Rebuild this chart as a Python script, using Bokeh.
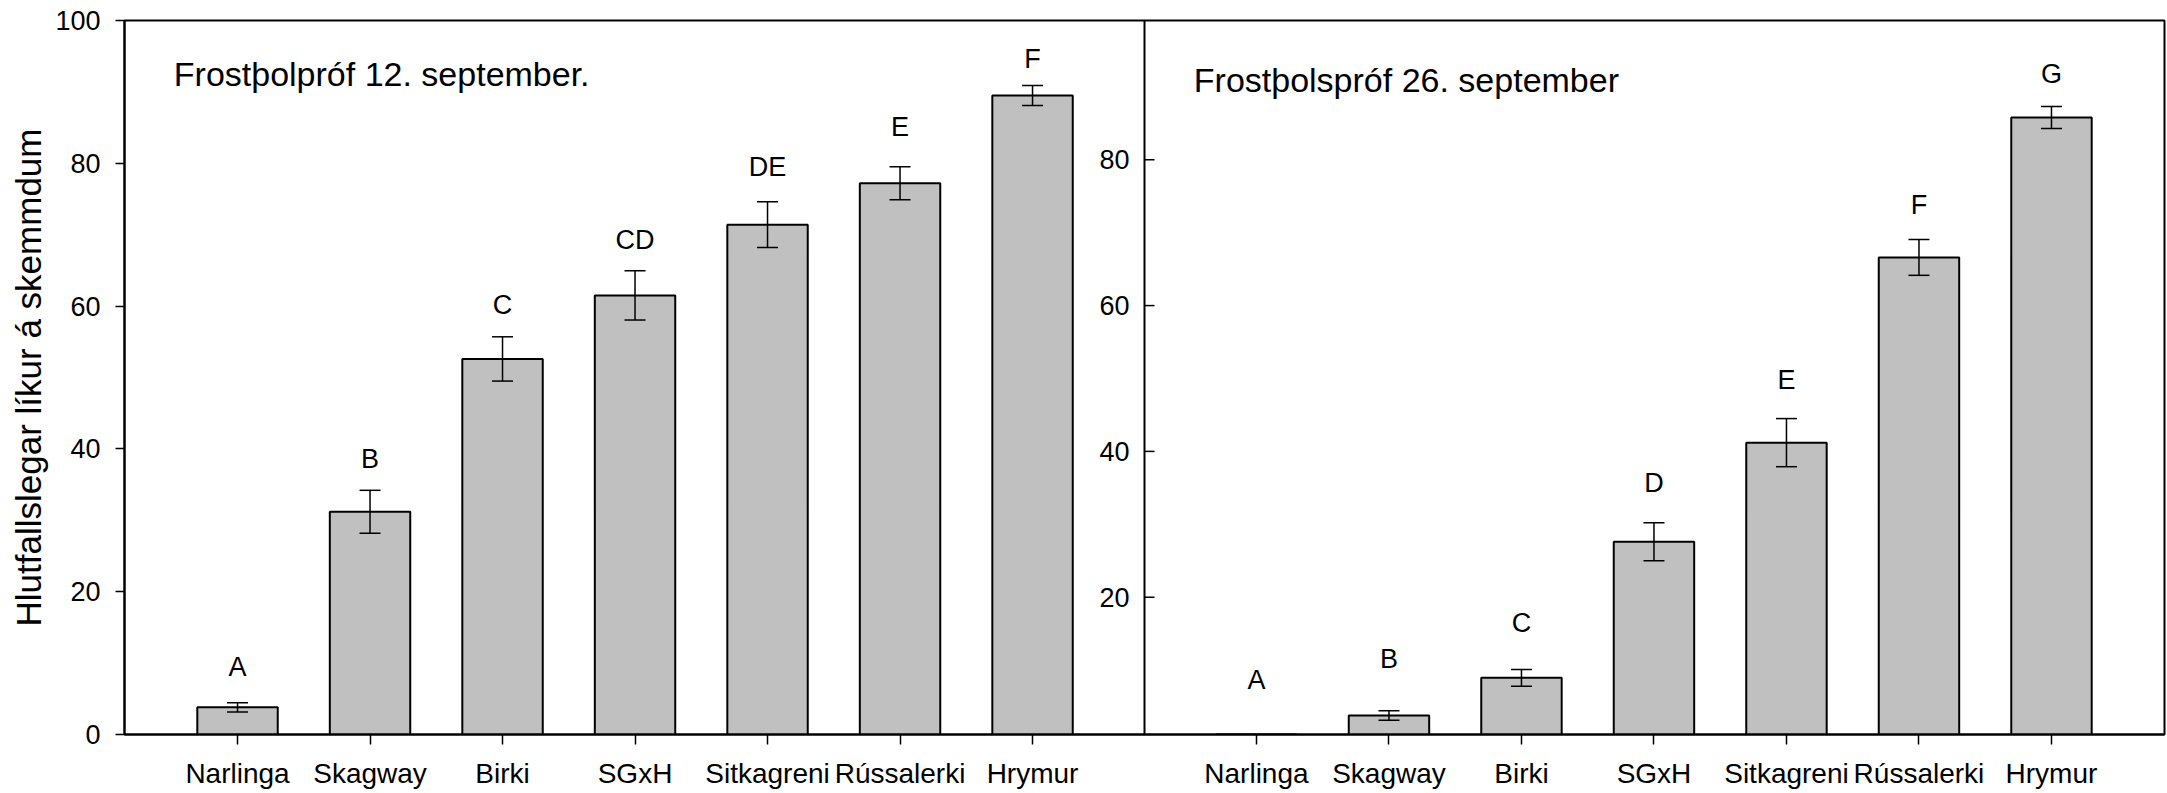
from bokeh.plotting import figure
from bokeh.models import Range1d, Span, Whisker, TeeHead, ColumnDataSource, Label
from bokeh.core.properties import value
from bokeh.embed import file_html
from bokeh.resources import INLINE

# ---------------- data ----------------
categories = ["Narlinga", "Skagway", "Birki", "SGxH", "Sitkagreni", "Rússalerki", "Hrymur"]

sep12_mean = [3.8, 31.2, 52.6, 61.5, 71.4, 77.2, 89.5]
sep12_err = [0.65, 3.0, 3.1, 3.45, 3.2, 2.3, 1.4]
sep12_letters = ["A", "B", "C", "CD", "DE", "E", "F"]
sep12_letter_y = [8.4, 37.4, 59.0, 68.2, 78.3, 84.0, 93.5]

sep26_mean = [0.0, 3.77, 8.94, 27.6, 41.2, 66.6, 85.8]
sep26_err = [0.0, 0.65, 1.15, 2.6, 3.3, 2.45, 1.5]
sep26_letters = ["A", "B", "C", "D", "E", "F", "G"]
sep26_letter_y = [7.5, 10.4, 15.3, 34.5, 48.7, 72.7, 90.7]

title_12 = "Frostþolpróf 12. september."
title_26 = "Frostþolspróf 26. september"
y_label = "Hlutfallslegar líkur á skemmdum"

left_ticks = [0, 20, 40, 60, 80, 100]
right_ticks = [20, 40, 60, 80]

# ---------------- layout ----------------
FONT = "Liberation Sans"
X0, X1 = -0.853, 14.543          # x range of the joint frame
RIGHT_OFFSET = 7.69              # shift of the second panel's categories
X_DIV = 6.845                    # panel divider
PX = (X1 - X0) / 2040.0          # data units per pixel horizontally
BAR_W = 0.607

xl = list(range(len(categories)))
xr = [round(RIGHT_OFFSET + i, 3) for i in xl]

p = figure(width=2167, height=793, output_backend="svg", toolbar_location=None,
           x_range=Range1d(X0, X1), y_range=Range1d(0, 100),
           min_border_left=124, min_border_right=3, min_border_top=20, min_border_bottom=59)
p.extra_y_ranges = {"r": Range1d(1.17, 99.1)}
p.grid.visible = False
p.outline_line_color = "black"
p.outline_line_width = 2
p.background_fill_color = "white"
p.border_fill_color = "white"

# x axis
p.xaxis.ticker = xl + xr
p.xaxis.major_label_overrides = {**{x: c for x, c in zip(xl, categories)},
                                 **{x: c for x, c in zip(xr, categories)}}
p.xaxis.major_tick_out = 10
p.xaxis.major_tick_in = 0
p.xaxis.minor_tick_line_color = None
p.xaxis.axis_line_width = 2
p.xaxis.major_tick_line_width = 1.5
p.xaxis.major_label_text_font = FONT
p.xaxis.major_label_text_font_size = "28px"
p.xaxis.major_label_text_color = "black"
p.xaxis.major_label_standoff = 13

# left y axis
p.yaxis.ticker = left_ticks
p.yaxis.major_tick_out = 9
p.yaxis.major_tick_in = 0
p.yaxis.minor_tick_line_color = None
p.yaxis.axis_line_width = 2
p.yaxis.major_tick_line_width = 1.5
p.yaxis.major_label_text_font = FONT
p.yaxis.major_label_text_font_size = "27px"
p.yaxis.major_label_text_color = "black"
p.yaxis.major_label_standoff = 15
p.yaxis.axis_label = y_label
p.yaxis.axis_label_text_font = FONT
p.yaxis.axis_label_text_font_size = "35px"
p.yaxis.axis_label_text_font_style = "normal"
p.yaxis.axis_label_text_color = "black"
p.yaxis.axis_label_standoff = 4

# divider / right panel axis
p.add_layout(Span(location=X_DIV, dimension="height", line_color="black", line_width=2))
rt = ColumnDataSource(dict(x0=[X_DIV] * len(right_ticks), x1=[X_DIV + 10 * PX] * len(right_ticks),
                           y=right_ticks, t=[str(v) for v in right_ticks]))
p.segment(x0="x0", y0="y", x1="x1", y1="y", source=rt, y_range_name="r",
          line_color="black", line_width=1.5)
p.text(x="x0", y="y", text="t", source=rt, y_range_name="r", x_offset=-15,
       text_align="right", text_baseline="middle", text_font=value(FONT),
       text_font_size="27px", text_color="black")

# bars, error bars, letters
def panel(xs, means, errs, letters, letter_y, yr):
    src = ColumnDataSource(dict(x=xs, top=means,
                                upper=[m + e for m, e in zip(means, errs)],
                                lower=[m - e for m, e in zip(means, errs)],
                                lab=letters, ly=letter_y))
    kw = {} if yr is None else {"y_range_name": yr}
    p.vbar(x="x", top="top", bottom=0, width=BAR_W, source=src,
           fill_color="#c0c0c0", line_color="black", line_width=2, **kw)
    wk = dict(base="x", upper="upper", lower="lower", source=src, level="overlay",
              line_color="black", line_width=1.5,
              upper_head=TeeHead(size=21, line_width=1.5, line_color="black"),
              lower_head=TeeHead(size=21, line_width=1.5, line_color="black"))
    if yr is not None:
        wk["y_range_name"] = yr
    p.add_layout(Whisker(**wk))
    p.text(x="x", y="ly", text="lab", source=src, text_align="center", y_offset=-8,
           text_baseline="alphabetic", text_font=value(FONT), text_font_size="27px",
           text_color="black", **kw)

panel(xl, sep12_mean, sep12_err, sep12_letters, sep12_letter_y, None)
panel(xr, sep26_mean, sep26_err, sep26_letters, sep26_letter_y, "r")

# panel titles
p.add_layout(Label(x=X0 + 49.3 * PX, y=92.5, text=title_12, text_align="left",
                   text_baseline="alphabetic", text_font=FONT, text_font_size="34px",
                   text_color="black"))
p.add_layout(Label(x=X0 + 1069.3 * PX, y=91.0, y_range_name="r", text=title_26,
                   text_align="left", text_baseline="alphabetic", text_font=FONT,
                   text_font_size="34px", text_color="black"))

open("out.html", "w").write(file_html(p, INLINE))
